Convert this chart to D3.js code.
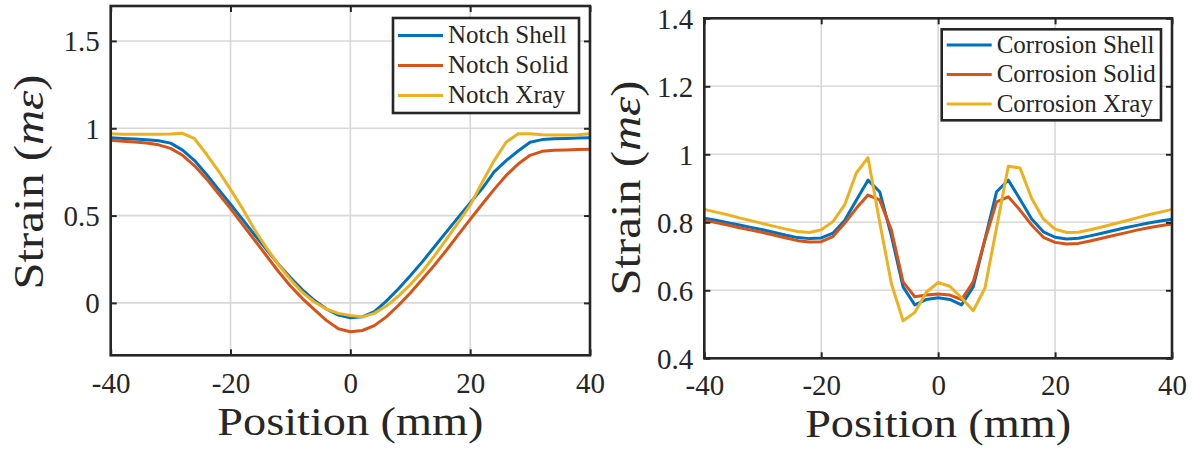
<!DOCTYPE html>
<html>
<head>
<meta charset="utf-8">
<script src="https://cdn.jsdelivr.net/npm/d3@7"></script>
<style>
  html, body { margin: 0; padding: 0; background: #ffffff; }
  svg { display: block; }
  text { font-family: "Liberation Serif", "DejaVu Serif", serif; fill: #262626; }
</style>
</head>
<body>
<div id="chart"></div>
<script>
// ---------------- data ----------------
const positions = [-40, -38, -36, -34, -32, -30, -28, -26, -24, -22, -20, -18, -16, -14, -12, -10, -8, -6, -4, -2,
  0, 2, 4, 6, 8, 10, 12, 14, 16, 18, 20, 22, 24, 26, 28, 30, 32, 34, 36, 38, 40];

const notchShell = [0.945, 0.942, 0.938, 0.934, 0.928, 0.915, 0.875, 0.815, 0.735, 0.65, 0.565, 0.478, 0.39, 0.305, 0.222, 0.145, 0.075, 0.015, -0.035, -0.07,
  -0.085, -0.08, -0.05, 0.01, 0.08, 0.155, 0.235, 0.32, 0.405, 0.49, 0.573, 0.655, 0.75, 0.815, 0.87, 0.92, 0.935, 0.94, 0.942, 0.944, 0.946];
const notchSolid = [0.931, 0.926, 0.921, 0.915, 0.905, 0.885, 0.845, 0.785, 0.71, 0.625, 0.54, 0.45, 0.36, 0.27, 0.18, 0.097, 0.025, -0.038, -0.1, -0.148,
  -0.165, -0.158, -0.13, -0.08, -0.015, 0.057, 0.135, 0.215, 0.3, 0.39, 0.478, 0.565, 0.65, 0.73, 0.795, 0.845, 0.868, 0.874, 0.876, 0.878, 0.88];
const notchXray = [0.969, 0.966, 0.965, 0.965, 0.966, 0.967, 0.971, 0.94, 0.851, 0.755, 0.65, 0.54, 0.42, 0.315, 0.22, 0.134, 0.06, 0.005, -0.035, -0.06,
  -0.072, -0.08, -0.06, -0.018, 0.038, 0.105, 0.18, 0.268, 0.363, 0.459, 0.56, 0.69, 0.815, 0.92, 0.969, 0.969, 0.963, 0.961, 0.961, 0.963, 0.968];

const corrosionShell = [0.812, 0.806, 0.799, 0.792, 0.785, 0.778, 0.77, 0.762, 0.755, 0.752, 0.754, 0.768, 0.805, 0.865, 0.924, 0.89, 0.76, 0.61, 0.557, 0.573,
  0.578, 0.573, 0.557, 0.61, 0.75, 0.89, 0.924, 0.868, 0.81, 0.772, 0.756, 0.751, 0.753, 0.76, 0.768, 0.776, 0.784, 0.791, 0.798, 0.804, 0.809];
const corrosionSolid = [0.805, 0.799, 0.792, 0.784, 0.777, 0.77, 0.762, 0.754, 0.746, 0.742, 0.743, 0.758, 0.797, 0.841, 0.88, 0.866, 0.777, 0.625, 0.581, 0.586,
  0.589, 0.586, 0.573, 0.625, 0.748, 0.86, 0.875, 0.836, 0.792, 0.756, 0.741, 0.736, 0.738, 0.745, 0.753, 0.761, 0.769, 0.777, 0.784, 0.79, 0.795];
const corrosionXray = [0.838, 0.83, 0.822, 0.813, 0.805, 0.796, 0.788, 0.78, 0.773, 0.77, 0.778, 0.802, 0.851, 0.945, 0.99, 0.8, 0.62, 0.51, 0.535, 0.595,
  0.623, 0.612, 0.578, 0.54, 0.606, 0.785, 0.965, 0.96, 0.87, 0.81, 0.78, 0.77, 0.771, 0.778, 0.786, 0.795, 0.804, 0.813, 0.822, 0.83, 0.838];

const notchNames = ["Notch Shell", "Notch Solid", "Notch Xray"];
const corrosionNames = ["Corrosion Shell", "Corrosion Solid", "Corrosion Xray"];

const xTicks = [-40, -20, 0, 20, 40];
const xTickLabels = ["-40", "-20", "0", "20", "40"];
const notchYTicks = [0, 0.5, 1, 1.5];
const notchYTickLabels = ["0", "0.5", "1", "1.5"];
const corrosionYTicks = [0.4, 0.6, 0.8, 1, 1.2, 1.4];
const corrosionYTickLabels = ["0.4", "0.6", "0.8", "1", "1.2", "1.4"];

const xLabel = "Position (mm)";
const seriesColors = ["#0072BD", "#D95319", "#EDB120"];

// ---------------- drawing ----------------
const W = 1195, H = 450;
const FONT = '"Liberation Serif", "DejaVu Serif", serif';
const svg = d3.select("#chart").append("svg").attr("width", W).attr("height", H);

function drawPanel(cfg) {
  const x = d3.scaleLinear().domain([-40, 40]).range([cfg.left, cfg.right]);
  const y = d3.scaleLinear().domain(cfg.yDomain).range([cfg.bottom, cfg.top]);
  const g = svg.append("g");
  const axisColor = "#262626";

  // grid
  g.append("g").selectAll("line").data(xTicks).join("line")
    .attr("x1", d => x(d)).attr("x2", d => x(d))
    .attr("y1", cfg.top).attr("y2", cfg.bottom)
    .attr("stroke", "#d8d8d8").attr("stroke-width", 1.6);
  g.append("g").selectAll("line").data(cfg.yTicks).join("line")
    .attr("x1", cfg.left).attr("x2", cfg.right)
    .attr("y1", d => y(d)).attr("y2", d => y(d))
    .attr("stroke", "#d8d8d8").attr("stroke-width", 1.6);

  // lines
  const line = d3.line().x(d => x(d[0])).y(d => y(d[1]));
  cfg.series.forEach((s, i) => {
    g.append("path")
      .datum(positions.map((p, k) => [p, s[k]]))
      .attr("d", line)
      .attr("fill", "none")
      .attr("stroke", seriesColors[i])
      .attr("stroke-width", 3)
      .attr("stroke-linejoin", "round");
  });

  // axes (inward ticks)
  const fmtX = d => xTickLabels[xTicks.indexOf(d)];
  const fmtY = d => cfg.yTickLabels[cfg.yTicks.indexOf(d)];
  const bottomAx = g.append("g").attr("transform", `translate(0,${cfg.bottom})`)
    .call(d3.axisBottom(x).tickValues(xTicks).tickFormat(fmtX).tickSize(-6).tickPadding(14));
  const topAx = g.append("g").attr("transform", `translate(0,${cfg.top})`)
    .call(d3.axisTop(x).tickValues(xTicks).tickFormat("").tickSize(-6));
  const leftAx = g.append("g").attr("transform", `translate(${cfg.left},0)`)
    .call(d3.axisLeft(y).tickValues(cfg.yTicks).tickFormat(fmtY).tickSize(-6).tickPadding(11));
  const rightAx = g.append("g").attr("transform", `translate(${cfg.right},0)`)
    .call(d3.axisRight(y).tickValues(cfg.yTicks).tickFormat("").tickSize(-6));
  [bottomAx, topAx, leftAx, rightAx].forEach(a => {
    a.attr("font-family", FONT);
    a.select(".domain").remove();
    a.selectAll(".tick line").attr("stroke", axisColor).attr("stroke-width", 2);
    a.selectAll(".tick text").attr("fill", axisColor).style("font-size", "29px")
      .style("font-family", FONT);
  });
  bottomAx.selectAll(".tick text").attr("dy", null)
    .attr("y", cfg.xTickBaseline - cfg.bottom);
  leftAx.selectAll(".tick text").attr("dy", "0.34em");

  // frame
  g.append("rect")
    .attr("x", cfg.left).attr("y", cfg.top)
    .attr("width", cfg.right - cfg.left).attr("height", cfg.bottom - cfg.top)
    .attr("fill", "none").attr("stroke", axisColor).attr("stroke-width", 2.6);

  // x label
  g.append("text")
    .attr("x", (cfg.left + cfg.right) / 2).attr("y", cfg.xLabelBaseline)
    .attr("text-anchor", "middle")
    .attr("textLength", 266).attr("lengthAdjust", "spacingAndGlyphs")
    .style("font-size", "40px").style("font-family", FONT)
    .text(xLabel);

  // y label: Strain (mε)
  const yl = g.append("text")
    .attr("transform", `translate(${cfg.yLabelX},${cfg.yLabelY}) rotate(-90)`)
    .attr("text-anchor", "middle")
    .attr("textLength", 215).attr("lengthAdjust", "spacingAndGlyphs")
    .style("font-size", "42px").style("font-family", FONT);
  yl.append("tspan").text("Strain (");
  yl.append("tspan").style("font-style", "italic").text("m\u03B5");
  yl.append("tspan").text(")");

  // legend
  const lg = g.append("g");
  lg.append("rect")
    .attr("x", cfg.legend.x).attr("y", cfg.legend.y)
    .attr("width", cfg.legend.w).attr("height", cfg.legend.h)
    .attr("fill", "#ffffff").attr("stroke", axisColor).attr("stroke-width", 2.6);
  cfg.names.forEach((n, i) => {
    const cy = cfg.legend.row0 + i * cfg.legend.step;
    lg.append("line")
      .attr("x1", cfg.legend.x + 5).attr("x2", cfg.legend.x + 50)
      .attr("y1", cy).attr("y2", cy)
      .attr("stroke", seriesColors[i]).attr("stroke-width", 3);
    lg.append("text")
      .attr("x", cfg.legend.x + 55).attr("y", cy).attr("dy", "0.3em")
      .style("font-size", "25px").style("font-family", FONT)
      .text(n);
  });
}

drawPanel({
  left: 110.7, right: 590, top: 6, bottom: 355.3,
  yDomain: [-0.3, 1.7], yTicks: notchYTicks, yTickLabels: notchYTickLabels,
  series: [notchShell, notchSolid, notchXray], names: notchNames,
  xTickBaseline: 393, xLabelBaseline: 435,
  yLabelX: 43, yLabelY: 182,
  legend: { x: 393, y: 18, w: 186, h: 95, row0: 35.5, step: 30 }
});

drawPanel({
  left: 704.3, right: 1172, top: 18.3, bottom: 358.3,
  yDomain: [0.4, 1.4], yTicks: corrosionYTicks, yTickLabels: corrosionYTickLabels,
  series: [corrosionShell, corrosionSolid, corrosionXray], names: corrosionNames,
  xTickBaseline: 395, xLabelBaseline: 437,
  yLabelX: 640, yLabelY: 188,
  legend: { x: 941.7, y: 29.3, w: 219.3, h: 91, row0: 45, step: 29.5 }
});
</script>
</body>
</html>
